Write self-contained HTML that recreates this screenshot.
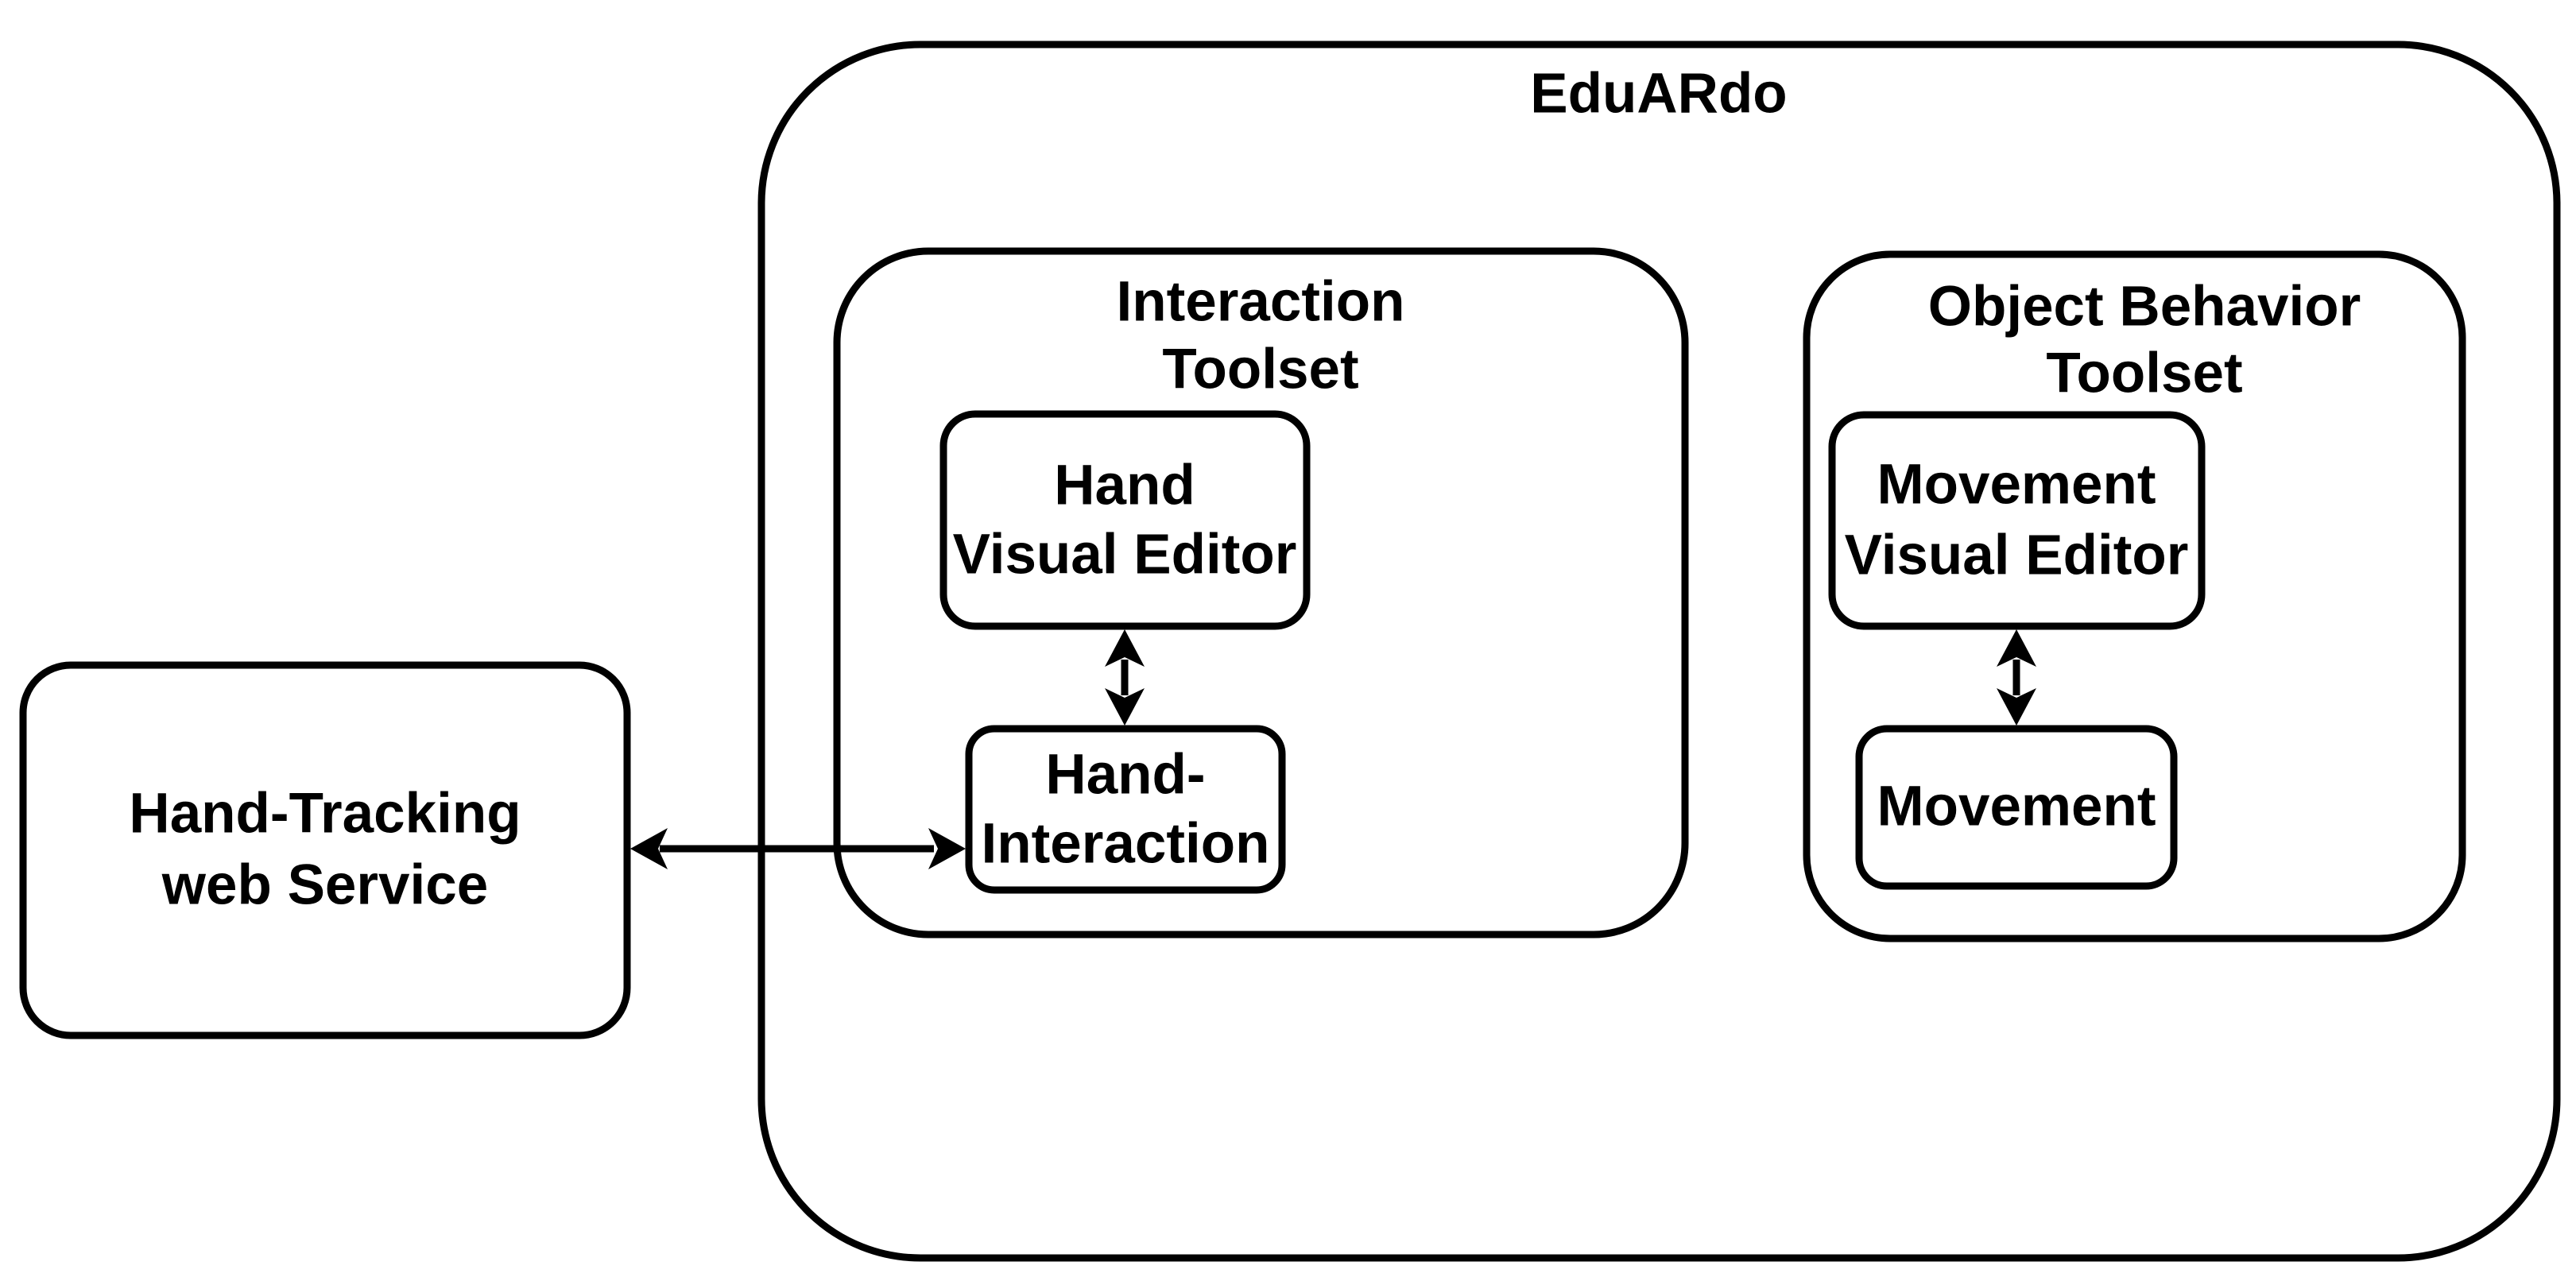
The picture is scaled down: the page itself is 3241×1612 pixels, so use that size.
<!DOCTYPE html>
<html><head><meta charset="utf-8"><style>
html,body{margin:0;padding:0;background:#fff;}
svg{display:block;}
text{font-family:"Liberation Sans",Arial,sans-serif;font-weight:bold;font-size:71px;fill:#000;text-anchor:middle;dominant-baseline:central;}
</style></head><body>
<svg width="3241" height="1612" viewBox="0 0 3241 1612" xmlns="http://www.w3.org/2000/svg">
<g fill="none" stroke="#000" stroke-width="9">
<rect x="958" y="56" width="2259" height="1527" rx="200" ry="200" fill="#fff"/>
<rect x="29" y="837" width="760" height="466" rx="60" ry="60" fill="#fff"/>
<rect x="1053" y="316" width="1067" height="860" rx="115" ry="115"/>
<rect x="2273" y="320" width="825" height="861" rx="105" ry="105"/>
<rect x="1187" y="521" width="457" height="267" rx="40" ry="40" fill="#fff"/>
<rect x="1219" y="917" width="394" height="203" rx="32" ry="32" fill="#fff"/>
<rect x="2305" y="522" width="465" height="266" rx="40" ry="40" fill="#fff"/>
<rect x="2339" y="917" width="396" height="198" rx="35" ry="35" fill="#fff"/>
<line x1="830" y1="1068" x2="1175" y2="1068"/>
<line x1="1415" y1="830" x2="1415" y2="875"/>
<line x1="2537" y1="830" x2="2537" y2="875"/>
</g>
<g fill="#000">
<polygon points="793,1068 840,1042 828,1068 840,1094"/>
<polygon points="1215,1068 1168,1042 1180,1068 1168,1094"/>
<polygon points="1415,792 1440,839 1415,827 1390,839"/>
<polygon points="1415,913 1440,866 1415,878 1390,866"/>
<polygon points="2537,792 2562,839 2537,827 2512,839"/>
<polygon points="2537,913 2562,866 2537,878 2512,866"/>
</g>
<text x="2087" y="118">EduARdo</text>
<text x="1586" y="380">Interaction</text>
<text x="1586" y="465">Toolset</text>
<text x="2698" y="386">Object Behavior</text>
<text x="2698" y="470">Toolset</text>
<text x="1415" y="611">Hand</text>
<text x="1415" y="698">Visual Editor</text>
<text x="1416" y="975">Hand-</text>
<text x="1416" y="1062">Interaction</text>
<text x="409" y="1024">Hand-Tracking</text>
<text x="409" y="1114">web Service</text>
<text x="2537" y="610">Movement</text>
<text x="2537" y="699">Visual Editor</text>
<text x="2537" y="1015">Movement</text>
</svg>
</body></html>
